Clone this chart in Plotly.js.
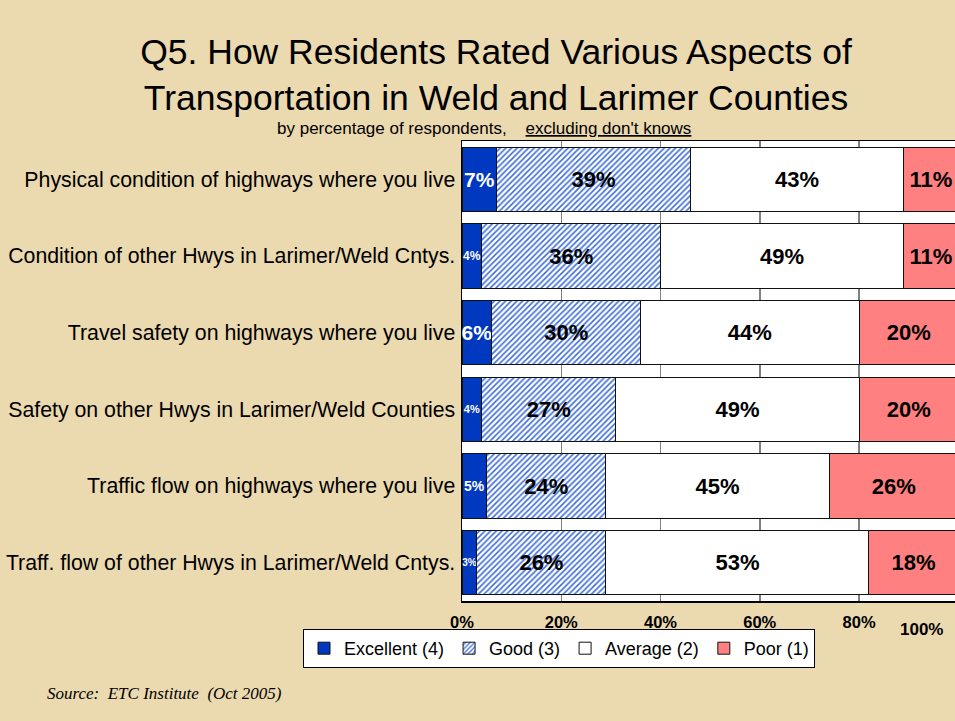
<!DOCTYPE html>
<html>
<head>
<meta charset="utf-8">
<script src="https://cdn.plot.ly/plotly-3.0.1.min.js"></script>
<style>
html,body{margin:0;padding:0;background:#ebd9b0;}
#chart{width:955px;height:721px;}
</style>
</head>
<body>
<div id="chart"></div>
<script>
var categories = [
  "Physical condition of highways where you live",
  "Condition of other Hwys in Larimer/Weld Cntys.",
  "Travel safety on highways where you live",
  "Safety on other Hwys in Larimer/Weld Counties",
  "Traffic flow on highways where you live",
  "Traff. flow of other Hwys in Larimer/Weld Cntys."
];
var excellent = [7, 4, 6, 4, 5, 3];
var good      = [39, 36, 30, 27, 24, 26];
var average   = [43, 49, 44, 49, 45, 53];
var poor      = [11, 11, 20, 20, 26, 18];
var seriesNames = ["Excellent (4)", "Good (3)", "Average (2)", "Poor (1)"];
var tickVals = [0, 20, 40, 60, 80];
var tickText = ["0%", "20%", "40%", "60%", "80%"];
var excellentLabelSizes = [21, 12, 21, 11, 14, 10];

var W = 955, H = 721;
var mL = 462, mR = 0, mT = 141, mB = 120;
var pw = W - mL - mR, ph = H - mT - mB;
function px(x){ return (x - mL) / pw; }
function py(y){ return (H - mB - y) / ph; }

var line = {color: "#111", width: 1};
function pctText(a){ return a.map(function(v){ return v + "%"; }); }
var FONT = "Arial, Liberation Sans, sans-serif";

function barTrace(name, vals, marker, tf){
  return {
    type: "bar", orientation: "h", name: name,
    y: categories, x: vals, text: pctText(vals),
    textposition: "inside", insidetextanchor: "middle", constraintext: "none", textangle: 0,
    textfont: tf, marker: marker, hoverinfo: "skip"
  };
}

var traces = [
  barTrace(seriesNames[0], excellent, {color: "#0038c0", line: line},
    {family: FONT, size: excellentLabelSizes, color: "#ffffff", weight: "bold"}),
  barTrace(seriesNames[1], good, {color: "#ffffff", line: line,
      pattern: {shape: "/", fgcolor: "#3f6fd8", bgcolor: "#ffffff", size: 4, solidity: 0.4}},
    {family: FONT, size: 22, color: "#000000", weight: "bold"}),
  barTrace(seriesNames[2], average, {color: "#ffffff", line: line},
    {family: FONT, size: 22, color: "#000000", weight: "bold"}),
  barTrace(seriesNames[3], poor, {color: "#ff8080", line: line},
    {family: FONT, size: 22, color: "#000000", weight: "bold"})
];

var layout = {
  width: W, height: H,
  margin: {l: mL, r: mR, t: mT, b: mB, pad: 0},
  paper_bgcolor: "#ebd9b0",
  plot_bgcolor: "#ffffff",
  barmode: "stack",
  bargap: 0.165,
  showlegend: true,
  font: {family: FONT, color: "#000"},
  title: {
    text: "Q5. How Residents Rated Various Aspects of<br>Transportation in Weld and Larimer Counties",
    font: {family: FONT, size: 35.5, color: "#000"},
    x: 496 / W, xref: "container", xanchor: "center",
    y: 1 - 64 / H, yref: "container", yanchor: "middle"
  },
  xaxis: {
    range: [0, pw / 4.963],
    tickvals: tickVals, ticktext: tickText,
    tickfont: {family: FONT, size: 16.5, weight: "bold"},
    ticks: "", ticklabelstandoff: 6,
    showgrid: true, gridcolor: "#808080", gridwidth: 1.5,
    zeroline: false,
    showline: true, linecolor: "#000", linewidth: 1.5, mirror: true,
    fixedrange: true
  },
  yaxis: {
    type: "category", autorange: "reversed",
    tickfont: {family: FONT, size: 21.3},
    ticks: "", ticklabelstandoff: 1,
    showgrid: false, zeroline: false,
    showline: true, linecolor: "#000", linewidth: 1.5,
    fixedrange: true
  },
  legend: {
    orientation: "h", traceorder: "normal",
    x: px(303), y: py(629), xanchor: "left", yanchor: "top",
    bgcolor: "#ffffff", bordercolor: "#000", borderwidth: 1,
    font: {family: FONT, size: 18},
    itemwidth: 30, tracegroupgap: 0
  },
  annotations: [
    {text: "by percentage of respondents,    <span style=\"text-decoration:underline\">excluding don't knows</span>",
     xref: "paper", yref: "paper", x: px(484), y: py(128), xanchor: "center", yanchor: "middle",
     showarrow: false, font: {family: FONT, size: 17}},
    {text: "100%", xref: "paper", yref: "paper", x: px(921), y: py(629), xanchor: "center", yanchor: "middle",
     showarrow: false, font: {family: FONT, size: 17, weight: "bold"}},
    {text: "Source:  ETC Institute  (Oct 2005)", xref: "paper", yref: "paper", x: px(45), y: py(693),
     xanchor: "left", yanchor: "middle", showarrow: false,
     font: {family: "Liberation Serif, Times New Roman, serif", size: 17, style: "italic"}}
  ]
};

Plotly.newPlot("chart", traces, layout, {staticPlot: true, displayModeBar: false});
</script>
</body>
</html>
